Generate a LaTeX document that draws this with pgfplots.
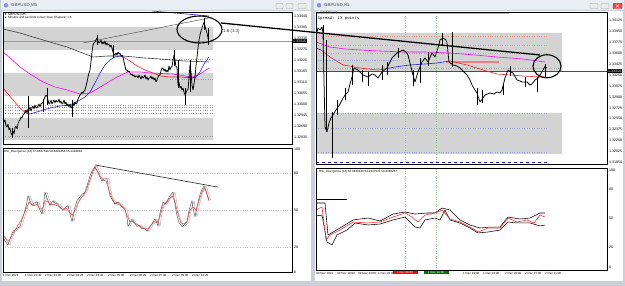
\documentclass[border=0pt]{standalone}
\usepackage{pgfplots}
\pgfplotsset{compat=1.18}
\usepackage{pgfplotstable}
\usepackage{fontspec}
\setmainfont{Liberation Sans}
\newfontfamily\monof{Liberation Mono}
\newcommand\tf{\fontsize{3.6}{4.2}\selectfont}
\newcommand\xf{\fontsize{3}{3.5}\selectfont}
\newcommand\hf{\fontsize{4.4}{5}\selectfont}
\definecolor{frameC}{RGB}{203,208,216}
\definecolor{titleC}{RGB}{233,238,245}
\definecolor{zoneC}{RGB}{211,211,211}
\definecolor{maC}{RGB}{255,0,255}
\definecolor{redC}{RGB}{255,30,30}
\definecolor{blueC}{RGB}{30,30,255}
\definecolor{dgC}{RGB}{60,60,60}
\definecolor{salC}{RGB}{240,128,128}
\definecolor{dotR}{RGB}{245,150,130}
\definecolor{dotB}{RGB}{150,170,235}
\definecolor{rsiR}{RGB}{255,50,50}
\definecolor{rsiG}{RGB}{80,80,80}
\definecolor{vR}{RGB}{255,150,150}
\definecolor{vG}{RGB}{140,200,140}
\pgfplotsset{
  mt/.style={scale only axis, anchor=north west, xtick=\empty, scaled y ticks=false,
    axis on top,
    axis line style={black,line width=0.35pt},
    ytick pos=right, yticklabel pos=right, xtick pos=bottom, tick align=outside,
    major tick length=1.2pt, tick style={black,line width=0.3pt},
    yticklabel style={font=\tf, anchor=west, inner sep=0.8pt},
    xticklabel style={font=\xf, anchor=north west, inner sep=0.6pt, xshift=-0.6pt},
    /pgf/number format/assume math mode=true,
    axis background/.style={fill=white}, line join=round},
  price/.style={yticklabel style={/pgf/number format/fixed, /pgf/number format/fixed zerofill, /pgf/number format/precision=5}},
}
\pgfplotstableread{
x y
3 29
5 25
8 22
10 27
13 33
16 35
20 37
22 43
25 50
27 57
28 62
30 58
32 54
34 56
37 57
39 52
42 47
44 58
45 65
47 60
50 54
52 57
53 58
55 56
58 55
60 53
63 50
65 52
68 54
70 47
72 41
74 48
75 53
77 58
80 61
82 63
85 65
87 70
90 78
92 82
95 86
96 84
98 81
100 77
102 74
104 76
107 76
108 70
110 62
112 59
115 55
117 57
120 55
122 53
125 51
127 44
128 37
130 40
132 43
134 40
137 37
139 38
142 35
144 36
147 33
149 36
152 39
154 42
155 43
157 40
158 37
160 48
163 57
165 55
168 59
170 62
173 65
175 55
177 46
179 40
182 37
184 38
187 41
189 50
192 58
193 52
195 45
197 53
200 63
202 67
204 70
205 68
207 63
208 60
209 58
}\lrsiG
\pgfplotstableread{
x y
3 30
6 27
9 25
12 30
15 34
18 38
21 42
24 47
27 53
29 57
31 55
34 54
37 55
40 51
43 52
45 58
48 57
51 55
54 55
57 54
60 52
63 51
66 52
69 49
72 46
75 50
78 56
81 60
84 63
87 68
90 75
93 82
95 85
97 82
100 78
103 75
106 74
109 67
112 60
115 56
118 55
121 54
124 52
127 46
130 41
133 41
136 39
139 38
142 36
145 35
148 35
151 38
154 41
157 40
160 45
163 54
166 56
169 59
172 62
175 57
178 47
181 40
184 39
187 41
190 50
193 53
196 50
199 58
202 65
204 68
206 66
208 61
209 59
}\lrsiR
\pgfplotstableread{
x y
316 58.8
322 61.9
326 27.8
330 33
340 38.1
353 46.4
367 45.4
380 46.4
393 51.5
405 55.7
412 51.5
418 46.4
425 53.6
435 55.7
442 58.8
450 49.5
460 46.4
470 41.2
478 36.1
488 40.2
500 40.2
508 50.5
517 46.4
527 48.5
534 45.4
540 53.6
545 51.5
}\rrsiR
\pgfplotstableread{
x y
316 66
325 66
328 33
340 40.2
353 48.5
368 50.5
380 47.4
393 54.6
405 56.7
415 54.6
427 55.7
435 55.7
442 60.8
450 58.8
460 48.5
470 43.3
480 40.2
490 41.2
500 41.2
508 51.5
520 49.5
530 50.5
540 55.7
545 55.7
}\rrsiU
\pgfplotstableread{
x y
316 52.6
322 53.6
327 25.8
332 22.7
337 33
347 38.1
355 45.4
368 43.3
380 44.3
393 48.5
405 51.5
415 41.2
420 40.2
425 48.5
435 50.5
440 48.5
445 58.8
450 48.5
460 45.4
470 40.2
478 35.1
488 36.1
500 38.1
508 46.4
517 45.4
530 45.4
540 42.3
545 43.3
}\rrsiL
\begin{document}
\begin{tikzpicture}[x=1pt,y=1pt]
\useasboundingbox (0,0) rectangle (625,286);
\fill[frameC] (0,0) rectangle (625,286);
\fill[titleC] (1,276) rectangle (311,285.5);
\fill[white] (2,5) rectangle (311,275);
\fill[titleC] (314,276) rectangle (624,285.5);
\fill[white] (315,5) rectangle (623,275);

% ===== LEFT PRICE (M5) =====
\begin{axis}[mt, price, at={(3pt,274pt)}, width=289pt, height=132pt,
  xmin=3, xmax=292, ymin=1.3280, ymax=1.3346,
  ytick={1.32835,1.3289,1.32945,1.33,1.33055,1.3311,1.33165,1.3322,1.33275,1.3333,1.33385,1.3344}]
\addplot[draw=none, fill=zoneC] coordinates {(3,1.33385)(213,1.33385)(213,1.3327)(3,1.3327)(3,1.33385)};
\addplot[draw=none, fill=zoneC] coordinates {(3,1.33155)(213,1.33155)(213,1.3304)(3,1.3304)(3,1.33155)};
\addplot[draw=none, fill=zoneC] coordinates {(3,1.3293)(213,1.3293)(213,1.3282)(3,1.3282)(3,1.3293)};
\addplot[gray!80, dotted, line width=0.35pt] coordinates {(3,1.32995)(213,1.32995)};
\addplot[gray!80, dotted, line width=0.35pt] coordinates {(3,1.32985)(213,1.32985)};
\addplot[gray!80, dotted, line width=0.35pt] coordinates {(3,1.3297)(213,1.3297)};
\addplot[gray!80, dotted, line width=0.35pt] coordinates {(3,1.32955)(213,1.32955)};
\addplot[gray!80, dotted, line width=0.35pt] coordinates {(3,1.3284)(213,1.3284)};
\addplot[gray!80, dotted, line width=0.35pt] coordinates {(160,1.33225)(213,1.33225)};
\addplot[gray!80, dotted, line width=0.35pt] coordinates {(170,1.33125)(213,1.33125)};
\addplot[gray!80, line width=0.4pt] coordinates {(3,1.33315)(292,1.33315)};
\addplot[dgC, line width=0.6pt] coordinates {(3,1.33375)(20,1.33355)(33,1.33335)(50,1.3331)(67,1.33285)(80,1.3326)(93,1.33235)(108,1.3324)(123,1.3324)(145,1.3323)(160,1.33225)(185,1.33215)(209,1.3321)};
\addplot[maC, line width=0.6pt] coordinates {(3,1.3326)(10,1.3323)(20,1.33185)(30,1.3315)(43,1.3311)(55,1.33085)(67,1.3307)(80,1.3305)(90,1.33055)(97,1.33075)(107,1.33105)(117,1.33135)(128,1.3316)(140,1.3316)(150,1.33155)(173,1.3315)(185,1.3314)(193,1.33135)(200,1.3315)(209,1.3318)};
\addplot[redC, line width=0.6pt] coordinates {(3,1.3308)(8,1.3305)(13,1.3302)(18,1.3299)(22,1.3297)(26,1.32955)(30,1.3295)};
\addplot[blueC, line width=0.6pt] coordinates {(30,1.3295)(40,1.32965)(50,1.3298)(60,1.3299)(70,1.32995)(80,1.3302)(85,1.33035)(90,1.3306)(95,1.33105)(100,1.33155)(105,1.33195)(110,1.3322)(115,1.33235)(120,1.3324)(123,1.33235)};
\addplot[redC, line width=0.6pt] coordinates {(123,1.33235)(130,1.33215)(137,1.3319)(145,1.3317)(153,1.33155)(160,1.3314)(170,1.33135)(180,1.33135)(190,1.3313)(196,1.3313)};
\addplot[blueC, line width=0.6pt] coordinates {(186,1.33135)(192,1.3313)(196,1.33135)(200,1.3316)(204,1.3320)(209,1.33235)};
\addplot[gray!70!black, line width=0.5pt] coordinates {(83,1.33305)(209,1.3343)};
\addplot[blueC, line width=0.6pt] coordinates {(152,1.33465)(209,1.3344)};
\addplot[black, line width=0.4pt, unbounded coords=jump] coordinates {(12,1.3288)(12,1.3283)(12,nan)(28,1.3304)(28,1.3288)(28,nan)(43,1.33025)(43,1.3296)(43,nan)(47,1.3308)(47,1.32995)(47,nan)(72,1.3302)(72,1.32935)(72,nan)(97,1.33345)(97,1.33295)(97,nan)(113,1.33295)(113,1.3323)(113,nan)(174,1.3327)(174,1.3319)(174,nan)(178,1.3322)(178,1.3308)(178,nan)(185,1.3308)(185,1.32995)(185,nan)(190,1.3322)(190,1.3306)(190,nan)(204,1.3343)(204,1.3337)(204,nan)(208,1.3338)(208,1.33295)};
\addplot[black, line width=0.75pt] coordinates {(3,1.3293)(4,1.3291)(5,1.3292)(6,1.3289)(7,1.32885)(8,1.3290)(9,1.3287)(10,1.3288)(11,1.32855)(12,1.32845)(13,1.32865)(14,1.3285)(15,1.3288)(16,1.3289)(17,1.32875)(18,1.3290)(19,1.32915)(20,1.3292)(21,1.32935)(22,1.3293)(23,1.32945)(24,1.3295)(25,1.3296)(26,1.3297)(27,1.32955)(28,1.32975)(29,1.3297)(30,1.32985)(31,1.32965)(32,1.3298)(33,1.3299)(34,1.32975)(35,1.32995)(36,1.3298)(37,1.3298)(38,1.3299)(39,1.3300)(40,1.32985)(41,1.3300)(42,1.33005)(43,1.33005)(44,1.33025)(45,1.33035)(46,1.33045)(47,1.3304)(48,1.3302)(49,1.3300)(50,1.33005)(51,1.3302)(52,1.3300)(53,1.3301)(54,1.3302)(55,1.33005)(56,1.3302)(57,1.3301)(58,1.3301)(59,1.33025)(60,1.33005)(61,1.33015)(62,1.3300)(63,1.33005)(64,1.3302)(65,1.3300)(66,1.3301)(67,1.3299)(68,1.3300)(69,1.32985)(70,1.3300)(71,1.3298)(72,1.32985)(73,1.33005)(74,1.3299)(75,1.3301)(76,1.3300)(77,1.33005)(78,1.33025)(79,1.33035)(80,1.33045)(81,1.3305)(82,1.3306)(83,1.33055)(84,1.33065)(85,1.3307)(86,1.3309)(87,1.3311)(88,1.33135)(89,1.33155)(90,1.3317)(91,1.3321)(92,1.3326)(93,1.33295)(94,1.33305)(95,1.3331)(96,1.3332)(97,1.3333)(98,1.33315)(99,1.33305)(100,1.3331)(101,1.3332)(102,1.3330)(103,1.3331)(104,1.3330)(105,1.33315)(106,1.33295)(107,1.33305)(108,1.33295)(109,1.3330)(110,1.33285)(111,1.33295)(112,1.3328)(113,1.3326)(114,1.3325)(115,1.33245)(116,1.33255)(117,1.33245)(118,1.3326)(119,1.3325)(120,1.33255)(121,1.3324)(122,1.33245)(123,1.33235)(124,1.3321)(125,1.3319)(126,1.3317)(127,1.3317)(128,1.3316)(129,1.33165)(130,1.33155)(131,1.33145)(132,1.3315)(133,1.3314)(134,1.33145)(135,1.33135)(136,1.3314)(137,1.3314)(138,1.3313)(139,1.33145)(140,1.33135)(141,1.33125)(142,1.3314)(143,1.3313)(144,1.33135)(145,1.33145)(146,1.33125)(147,1.33135)(148,1.3312)(149,1.3313)(150,1.3313)(151,1.3314)(152,1.33125)(153,1.33135)(154,1.3312)(155,1.3313)(156,1.3311)(157,1.3312)(158,1.33135)(159,1.33145)(160,1.33145)(161,1.33165)(162,1.3318)(163,1.3318)(164,1.33165)(165,1.33175)(166,1.3316)(167,1.3317)(168,1.3316)(169,1.3319)(170,1.3317)(171,1.33185)(172,1.33185)(173,1.3322)(174,1.33245)(175,1.3322)(176,1.33185)(177,1.33185)(178,1.33095)(179,1.3311)(180,1.3308)(181,1.3309)(182,1.3307)(183,1.3308)(184,1.3306)(185,1.33045)(186,1.33055)(187,1.3307)(188,1.3307)(189,1.3313)(190,1.33195)(191,1.3316)(192,1.33095)(193,1.3307)(194,1.3310)(195,1.33135)(196,1.3319)(197,1.33235)(198,1.3328)(199,1.3332)(200,1.33345)(201,1.33365)(202,1.3338)(203,1.33395)(204,1.3341)(205,1.3339)(206,1.3337)(207,1.33355)(208,1.3333)(209,1.3331)};
\coordinate (lcur) at (axis cs:292,1.33315);
\coordinate (lell) at (axis cs:199.5,1.333725);
\coordinate (tlA) at (axis cs:221,1.33405);
\coordinate (ltxt) at (axis cs:223,1.33365);
\end{axis}

% ===== LEFT RSI =====
\begin{axis}[mt, at={(3pt,138pt)}, width=289pt, height=124pt,
  xmin=3, xmax=292, ymin=0, ymax=100.8, ytick={0,20,50,80,100},
  xtick={3,25,45,67,87,108,130,150,172,192},
  xticklabels={1 Dec 2021,1 Dec 23:40,2 Dec 01:00,2 Dec 02:20,2 Dec 03:40,2 Dec 05:00,2 Dec 06:20,2 Dec 07:40,2 Dec 09:00,2 Dec 10:20}]
\addplot[gray!45, dotted, line width=0.35pt] coordinates {(3,80)(292,80)};
\addplot[gray!45, dotted, line width=0.35pt] coordinates {(3,50)(292,50)};
\addplot[gray!45, dotted, line width=0.35pt] coordinates {(3,20)(292,20)};
\addplot[gray!70, line width=0.4pt] table[x expr=\thisrow{x}+2, y=y] {\lrsiG};
\addplot[rsiG, line width=0.45pt] table[x=x, y=y] {\lrsiG};
\addplot[rsiR, line width=0.45pt] table[x=x, y=y] {\lrsiR};
\addplot[black!85, line width=0.6pt] coordinates {(95,87)(218,69)};
\end{axis}

% ===== RIGHT PRICE (H1) =====
\begin{axis}[mt, price, at={(316pt,274pt)}, width=291pt, height=152pt,
  xmin=316, xmax=607, ymin=1.31826, ymax=1.34258,
  ytick={1.3185,1.32025,1.322,1.32375,1.3255,1.32725,1.329,1.33075,1.3325,1.33425,1.336,1.33775,1.3395,1.34125}]
\addplot[draw=none, fill=zoneC] coordinates {(316,1.33922)(562,1.33922)(562,1.33298)(316,1.33298)(316,1.33922)};
\addplot[draw=none, fill=zoneC] coordinates {(316,1.32642)(562,1.32642)(562,1.31986)(316,1.31986)(316,1.32642)};
\addplot[dotR, dotted, line width=0.45pt] coordinates {(316,1.33874)(547,1.33874)};
\addplot[dotR, dotted, line width=0.45pt] coordinates {(316,1.3373)(547,1.3373)};
\addplot[dotR, dotted, line width=0.45pt] coordinates {(316,1.33602)(547,1.33602)};
\addplot[dotB, densely dotted, line width=0.8pt] coordinates {(316,1.3349)(400,1.3349)};
\addplot[gray!70, dotted, line width=0.4pt] coordinates {(316,1.33362)(560,1.33362)};
\addplot[dotB, dotted, line width=0.45pt] coordinates {(316,1.32642)(547,1.32642)};
\addplot[dotB, dotted, line width=0.45pt] coordinates {(316,1.32402)(547,1.32402)};
\addplot[dotB, dotted, line width=0.45pt] coordinates {(316,1.32018)(547,1.32018)};
\addplot[vR, dotted, line width=0.35pt] coordinates {(405,1.31826)(405,1.34258)};
\addplot[vG, dotted, line width=0.35pt] coordinates {(436,1.31826)(436,1.34258)};
\addplot[salC, line width=1.5pt] coordinates {(446,1.33458)(499,1.33458)};
\addplot[gray!60, line width=1.6pt] coordinates {(316,1.34242)(509,1.34242)};
\addplot[blueC!70!black, dashed, line width=0.9pt] coordinates {(316,1.31858)(547,1.31858)};
\addplot[black!70, line width=0.4pt] coordinates {(316,1.33314)(607,1.33314)};
\addplot[maC, line width=0.6pt] coordinates {(316,1.33778)(330,1.33698)(345,1.33666)(360,1.3365)(380,1.33634)(403,1.33618)(425,1.33618)(450,1.33602)(475,1.3357)(497,1.33538)(523,1.33506)(545,1.33458)};
\addplot[blueC, line width=0.6pt] coordinates {(316,1.33682)(321,1.3365)};
\addplot[redC, line width=0.6pt] coordinates {(321,1.3365)(330,1.33538)(343,1.3341)(360,1.33362)(377,1.3333)(385,1.33346)};
\addplot[blueC, line width=0.6pt] coordinates {(385,1.33346)(395,1.33378)(410,1.3341)(425,1.33426)(437,1.33442)(450,1.33474)};
\addplot[redC, line width=0.6pt] coordinates {(450,1.33474)(467,1.3341)(483,1.3333)(497,1.33266)(510,1.3325)(523,1.33234)(540,1.33218)(545,1.33218)};
\addplot[black, line width=0.4pt, unbounded coords=jump] coordinates {(323,1.3405)(323,1.3381)(323,nan)(326,1.3381)(326,1.3237)(326,nan)(332,1.32658)(332,1.31922)(332,nan)(337,1.3285)(337,1.3261)(337,nan)(345,1.33042)(345,1.3285)(345,nan)(352,1.3341)(352,1.3309)(352,nan)(362,1.3333)(362,1.33138)(362,nan)(368,1.33298)(368,1.33074)(368,nan)(382,1.3341)(382,1.3317)(382,nan)(387,1.33458)(387,1.3325)(387,nan)(398,1.33682)(398,1.33522)(398,nan)(413,1.3333)(413,1.33074)(413,nan)(420,1.33522)(420,1.33122)(420,nan)(428,1.33618)(428,1.33394)(428,nan)(442,1.33922)(442,1.3373)(442,nan)(452,1.33938)(452,1.33378)(452,nan)(477,1.33042)(477,1.3277)(477,nan)(482,1.3301)(482,1.32802)(482,nan)(503,1.3309)(503,1.3293)(503,nan)(510,1.3339)(510,1.33234)(510,nan)(525,1.33218)(525,1.33058)(525,nan)(537,1.33218)(537,1.32978)(537,nan)(545,1.33426)(545,1.33202)};
\addplot[black, line width=0.75pt] coordinates {(316,1.33858)(318,1.34002)(320,1.3397)(322,1.34018)(323,1.33922)(325,1.32418)(327,1.32338)(329,1.32482)(331,1.32562)(333,1.3261)(336,1.3269)(338,1.32738)(340,1.32786)(342,1.3285)(345,1.3293)(348,1.32978)(350,1.33106)(352,1.33218)(354,1.33362)(358,1.3333)(363,1.3325)(368,1.33218)(372,1.33266)(375,1.3325)(378,1.33202)(382,1.33298)(387,1.33362)(392,1.33522)(397,1.33602)(403,1.3365)(406,1.33618)(408,1.3357)(410,1.33442)(413,1.3325)(415,1.33138)(418,1.33298)(422,1.33458)(425,1.33522)(428,1.33458)(432,1.33602)(435,1.33538)(438,1.33682)(440,1.3381)(443,1.33842)(446,1.3381)(447,1.33762)(449,1.33458)(453,1.3341)(457,1.33394)(460,1.33362)(464,1.33298)(467,1.3325)(470,1.3317)(472,1.3309)(475,1.3301)(477,1.32962)(480,1.32818)(483,1.32882)(485,1.3293)(490,1.32962)(494,1.32946)(497,1.32978)(500,1.32962)(502,1.3301)(505,1.33202)(508,1.3333)(511,1.33298)(513,1.33282)(517,1.3317)(520,1.33154)(522,1.33138)(527,1.33138)(530,1.3309)(532,1.33106)(535,1.3317)(538,1.33202)(540,1.3325)(543,1.3333)(545,1.3339)(547,1.33362)};
\coordinate (rcur) at (axis cs:607,1.33314);
\coordinate (rell) at (axis cs:547,1.3339);
\coordinate (tlB) at (axis cs:540,1.3357);
\end{axis}

% ===== RIGHT RSI =====
\begin{axis}[mt, at={(316pt,118pt)}, width=291pt, height=102pt,
  xmin=316, xmax=607, ymin=-3.1, ymax=102.1, ytick={0,20,50,80,100},
  xtick={316,337,358,378,463,483,505,525,545},
  xticklabels={30 Nov 2021,30 Nov 18:00,30 Nov 23:00,1 Dec 03:00,1 Dec 19:00,1 Dec 23:00,2 Dec 03:00,2 Dec 07:00,2 Dec 11:00}]
\addplot[vR, dotted, line width=0.35pt] coordinates {(405,-3.1)(405,102.1)};
\addplot[vG, dotted, line width=0.35pt] coordinates {(436,-3.1)(436,102.1)};
\addplot[black, line width=0.5pt] coordinates {(316,70.1)(347,70.1)};
\addplot[black, line width=0.55pt] table[x=x, y=y] {\rrsiU};
\addplot[black, line width=0.55pt] table[x=x, y=y] {\rrsiL};
\addplot[rsiR, line width=0.6pt] table[x=x, y=y] {\rrsiR};
\coordinate (rv) at (axis cs:405,-3.1);
\coordinate (gv) at (axis cs:436,-3.1);
\end{axis}

\node[fill=black, text=white, font=\tf, inner sep=0.6pt, anchor=west] at ([xshift=0.4pt]lcur) {1.33315};
\node[fill=black, text=white, font=\tf, inner sep=0.6pt, anchor=west] at ([xshift=0.4pt]rcur) {1.33314};
\node[fill=red, text=white, font=\xf, inner sep=0.6pt, minimum width=25pt, anchor=north] at ([yshift=-0.8pt]rv) {1 Dec 08:00};
\node[fill=green!45!black, text=white, font=\xf, inner sep=0.6pt, minimum width=25pt, anchor=north] at ([yshift=-0.8pt]gv) {1 Dec 14:00};

\node[font=\xf, anchor=west, inner sep=0] at (4,271.8) {▼ GBPUSD,M5};
\node[font=\xf, anchor=west, inner sep=0] at (4,267.8) {▲ Minutes and seconds to bar close. Elapsed: 1:6};
\node[font=\xf, anchor=west, inner sep=0] at (4,134) {RSI\_Divergence (14) 57.8837598 58.8409458 55.2428884};
\node[font=\xf, anchor=west, inner sep=0, text=black!70] at (320,273) {GBPUSD,H1};
\node[font={\monof\fontsize{4}{4.5}\selectfont}, anchor=west, inner sep=0] at (317.5,268) {Spread: 13 points};
\node[font=\xf, anchor=west, inner sep=0] at (319,114.5) {RSI\_Divergence (14) 50.9820429 54.2347530 50.8380287};

\draw[black, line width=1.1pt] (lell) ellipse [x radius=22.5, y radius=13.5];
\draw[black, line width=1.1pt] (rell) ellipse [x radius=14, y radius=11.5];
\draw[black, line width=1.3pt] (tlA) -- (tlB);
\node[font=\hf, anchor=west, inner sep=0, text=black!80] at (ltxt) {1:6 (1.3)};

\fill[blue!45] (6,280.7) circle (2.3);
\node[font=\hf, anchor=west, inner sep=0, text=black!70] at (11,280.7) {GBPUSD,M5};
\fill[blue!45] (319,280.7) circle (2.3);
\node[font=\hf, anchor=west, inner sep=0, text=black!70] at (324,280.7) {GBPUSD,H1};
\foreach \a/\b in {276/283,286/293,298/306}{\draw[gray!80, fill=gray!15, rounded corners=0.6pt, line width=0.3pt] (\a,277.5) rectangle (\b,282.5);}
\foreach \a/\b in {590/598,601/609}{\draw[gray!80, fill=gray!15, rounded corners=0.6pt, line width=0.3pt] (\a,277.5) rectangle (\b,282.5);}
\draw[red!70!black, fill=red!75, rounded corners=0.6pt, line width=0.3pt] (613,277.5) rectangle (622,282.5);
\draw[white, line width=0.4pt] (616,278.6) -- (619,281.4) (616,281.4) -- (619,278.6);
\end{tikzpicture}
\end{document}
